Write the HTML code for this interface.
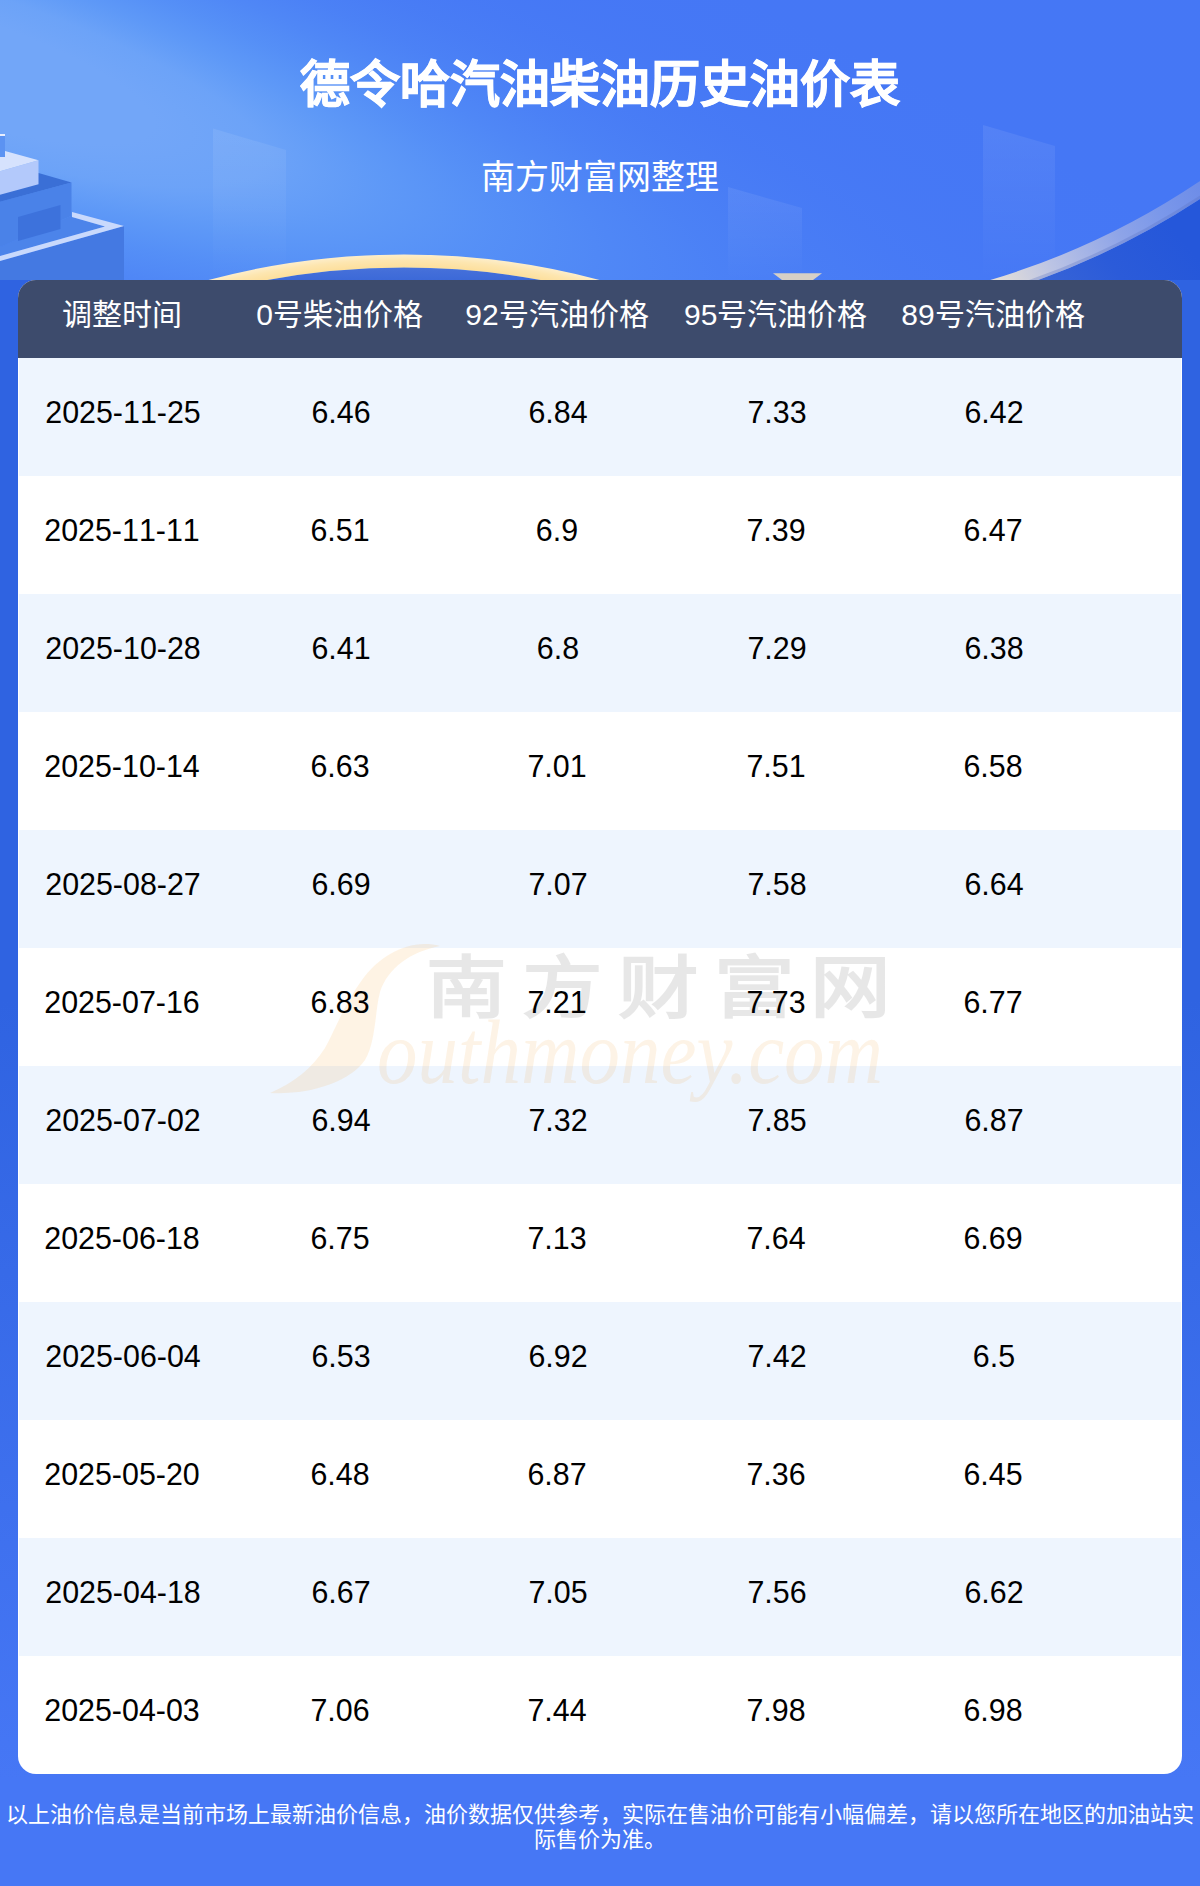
<!DOCTYPE html>
<html lang="zh-CN">
<head>
<meta charset="utf-8">
<title>德令哈汽油柴油历史油价表</title>
<style>
*{margin:0;padding:0;box-sizing:border-box}
html,body{width:1200px;height:1886px;overflow:hidden}
body{position:relative;font-family:"Liberation Sans",sans-serif;background:linear-gradient(180deg,#2f63e1 280px,#2f63e1 1000px,#4677f5 1780px,#4677f5 1886px);}
#hdr{position:absolute;left:0;top:0;width:1200px;height:280px}
#title{position:absolute;left:0;top:52px;width:1200px;text-align:center;color:#fff;font-size:50px;font-weight:bold;line-height:66px;letter-spacing:0;-webkit-text-stroke:0.8px #fff}
#sub{position:absolute;left:0;top:154px;width:1200px;text-align:center;color:#fff;font-size:34px;line-height:46px}
#tbl{position:absolute;left:18px;top:280px;width:1164px;height:1494px;border-radius:18px;overflow:hidden;background:#fff}
#th{position:absolute;left:0;top:0;width:1164px;height:78px;background:#3d4b6c}
.row{position:absolute;left:0;width:1164px;height:118px}
.row.a{background:#eef5fe;left:1px;width:1162px}
.c{position:absolute;top:0;width:218px;text-align:center;white-space:nowrap}
#th .c{color:#fff;font-size:30px;line-height:70px}
.row .c{color:#000;font-size:31px;line-height:109px;transform:scaleX(0.98);font-kerning:none}
.c0{left:-5px}.c1{left:212.5px}.c2{left:430px}.c3{left:648.8px}.c4{left:866px}
#wm{position:absolute;left:0;top:0;width:1164px;height:1494px;pointer-events:none;z-index:1}
.c{z-index:2}
#foot{position:absolute;left:0;top:1801.5px;width:1200px;padding:0 5px;text-align:center;color:#fff;font-size:22px;line-height:25.5px}
</style>
</head>
<body>
<svg id="hdr" width="1200" height="280" viewBox="0 0 1200 280">
<defs>
<radialGradient id="glow" gradientUnits="userSpaceOnUse" cx="0" cy="0" r="2.5" gradientTransform="translate(-74.6 57.1) rotate(17.2) scale(619 138)">
<stop offset="0.000" stop-color="#72a6f8" stop-opacity="1.000"/>
<stop offset="0.077" stop-color="#72a6f8" stop-opacity="1.000"/>
<stop offset="0.154" stop-color="#72a6f8" stop-opacity="1.000"/>
<stop offset="0.231" stop-color="#6fa6f8" stop-opacity="0.932"/>
<stop offset="0.308" stop-color="#68a6f8" stop-opacity="0.719"/>
<stop offset="0.385" stop-color="#64a6f8" stop-opacity="0.516"/>
<stop offset="0.462" stop-color="#63a6f8" stop-opacity="0.343"/>
<stop offset="0.538" stop-color="#62a6f8" stop-opacity="0.212"/>
<stop offset="0.615" stop-color="#62a6f8" stop-opacity="0.122"/>
<stop offset="0.692" stop-color="#62a6f8" stop-opacity="0.065"/>
<stop offset="0.769" stop-color="#62a6f8" stop-opacity="0.032"/>
<stop offset="0.846" stop-color="#62a6f8" stop-opacity="0.015"/>
<stop offset="0.923" stop-color="#62a6f8" stop-opacity="0.006"/>
<stop offset="1.000" stop-color="#62a6f8" stop-opacity="0.003"/>
</radialGradient>
<radialGradient id="goldg" gradientUnits="userSpaceOnUse" cx="404" cy="1014.5" r="766">
<stop offset="0.9755" stop-color="#fddf9c"/>
<stop offset="0.985" stop-color="#fde6b0"/>
<stop offset="1" stop-color="#fdf6e6"/>
</radialGradient>
<linearGradient id="inner" gradientUnits="userSpaceOnUse" x1="0" y1="266" x2="0" y2="280">
<stop offset="0" stop-color="#4872da"/>
<stop offset="1" stop-color="#3c69d8"/>
</linearGradient>
<linearGradient id="rband" gradientUnits="userSpaceOnUse" x1="1000" y1="280" x2="1200" y2="180">
<stop offset="0" stop-color="#e2ddd8"/>
<stop offset="0.23" stop-color="#bcc4e4"/>
<stop offset="0.57" stop-color="#8ea4e8"/>
<stop offset="0.77" stop-color="#7b98ea"/>
<stop offset="1" stop-color="#6d8ce8"/>
</linearGradient>
<linearGradient id="bld" x1="0" y1="0" x2="0" y2="1">
<stop offset="0" stop-color="#ffffff" stop-opacity="0.08"/>
<stop offset="1" stop-color="#ffffff" stop-opacity="0"/>
</linearGradient>
</defs>
<rect width="1200" height="280" fill="#4577f5"/>
<rect width="1200" height="280" fill="url(#glow)"/>
<!-- translucent buildings -->
<polygon points="213,128.5 286,150 286,280 213,280" fill="url(#bld)"/>
<polygon points="728,187 802,208 802,280 728,280" fill="url(#bld)"/>
<polygon points="983,125 1055,146 1055,280 983,280" fill="url(#bld)"/>
<!-- golden arc: inner region -->
<circle cx="404" cy="1014.5" r="747" fill="url(#inner)"/>
<circle cx="404" cy="1014.5" r="753.5" fill="none" stroke="url(#goldg)" stroke-width="13"/>
<!-- right arc -->
<linearGradient id="dark" gradientUnits="userSpaceOnUse" x1="1040" y1="290" x2="1150" y2="200">
<stop offset="0" stop-color="#3965d6"/>
<stop offset="0.5" stop-color="#2b5bd9"/>
<stop offset="1" stop-color="#2557da"/>
</linearGradient>
<path d="M 992.4 295 A 789 789 0 0 0 1254.5 160 L 1254.5 295 Z" fill="url(#dark)"/>
<path d="M 964.3 295 A 781.5 781.5 0 0 0 1242.3 160" fill="none" stroke="url(#rband)" stroke-width="15"/>
<path d="M 987 295 A 787.5 787.5 0 0 0 1252.1 160" fill="none" stroke="#5a70c0" stroke-opacity="0.3" stroke-width="3"/>
<!-- tan trapezoid -->
<polygon points="773,273.3 822,273.3 813,280 782,280" fill="#d6d0c6"/>
<!-- left building -->
<polygon points="0,261 124,226 124,280 0,280" fill="#4479e2"/>
<polygon points="0,247 71.5,215.7 72,217 105,226.5 0,256" fill="#4c84ea"/>
<polygon points="72,212 124,226 0,261 0,256 105,226.5 72,217" fill="#c9d9fc"/>
<polygon points="0,201.7 71.5,182.4 71.5,215.7 0,247" fill="#4a82e8"/>
<polygon points="18,217 60.5,205 60.5,229 18,241" fill="#3d72dc"/>
<polygon points="0,190 38.5,173 71.5,182.4 0,201.7" fill="#3a6fd6"/>
<polygon points="0,171.3 38.5,160.3 38.5,184.2 0,194.7" fill="#b3c9fb"/>
<polygon points="5,151 38.5,160.3 0,171.3 0,152.5" fill="#d6e2fd"/>
<rect x="0" y="135" width="5" height="22" fill="#5c93f2"/>
<rect x="0" y="134" width="5" height="2" fill="#e8eefe"/>
</svg>
<div id="title">德令哈汽油柴油历史油价表</div>
<div id="sub">南方财富网整理</div>

<div id="tbl">
<div id="th">
<div class="c c0">调整时间</div><div class="c c1">0号柴油价格</div><div class="c c2">92号汽油价格</div><div class="c c3">95号汽油价格</div><div class="c c4">89号汽油价格</div>
</div>
<div class="row a" style="top:78px"><div class="c c0">2025-11-25</div><div class="c c1">6.46</div><div class="c c2">6.84</div><div class="c c3">7.33</div><div class="c c4">6.42</div></div>
<div class="row" style="top:196px"><div class="c c0">2025-11-11</div><div class="c c1">6.51</div><div class="c c2">6.9</div><div class="c c3">7.39</div><div class="c c4">6.47</div></div>
<div class="row a" style="top:314px"><div class="c c0">2025-10-28</div><div class="c c1">6.41</div><div class="c c2">6.8</div><div class="c c3">7.29</div><div class="c c4">6.38</div></div>
<div class="row" style="top:432px"><div class="c c0">2025-10-14</div><div class="c c1">6.63</div><div class="c c2">7.01</div><div class="c c3">7.51</div><div class="c c4">6.58</div></div>
<div class="row a" style="top:550px"><div class="c c0">2025-08-27</div><div class="c c1">6.69</div><div class="c c2">7.07</div><div class="c c3">7.58</div><div class="c c4">6.64</div></div>
<div class="row" style="top:668px"><div class="c c0">2025-07-16</div><div class="c c1">6.83</div><div class="c c2">7.21</div><div class="c c3">7.73</div><div class="c c4">6.77</div></div>
<div class="row a" style="top:786px"><div class="c c0">2025-07-02</div><div class="c c1">6.94</div><div class="c c2">7.32</div><div class="c c3">7.85</div><div class="c c4">6.87</div></div>
<div class="row" style="top:904px"><div class="c c0">2025-06-18</div><div class="c c1">6.75</div><div class="c c2">7.13</div><div class="c c3">7.64</div><div class="c c4">6.69</div></div>
<div class="row a" style="top:1022px"><div class="c c0">2025-06-04</div><div class="c c1">6.53</div><div class="c c2">6.92</div><div class="c c3">7.42</div><div class="c c4">6.5</div></div>
<div class="row" style="top:1140px"><div class="c c0">2025-05-20</div><div class="c c1">6.48</div><div class="c c2">6.87</div><div class="c c3">7.36</div><div class="c c4">6.45</div></div>
<div class="row a" style="top:1258px"><div class="c c0">2025-04-18</div><div class="c c1">6.67</div><div class="c c2">7.05</div><div class="c c3">7.56</div><div class="c c4">6.62</div></div>
<div class="row" style="top:1376px"><div class="c c0">2025-04-03</div><div class="c c1">7.06</div><div class="c c2">7.44</div><div class="c c3">7.98</div><div class="c c4">6.98</div></div>
<svg id="wm" width="1164" height="1494" viewBox="18 280 1164 1494">
<path d="M 440 946 C 410 938, 380 955, 362 980 C 345 1003, 335 1030, 325 1048 C 312 1068, 295 1082, 270 1093 C 310 1095, 350 1082, 365 1060 C 376 1042, 375 1010, 380 992 C 388 968, 410 952, 440 946 Z" fill="#f8a020" fill-opacity="0.12"/>
<text x="0" y="0" font-family="Liberation Serif, serif" font-weight="bold" font-size="72" fill="#000" fill-opacity="0.095" letter-spacing="13.5" transform="translate(426 1012) scale(1.12 0.95)">南方财富网</text>
<text x="0" y="0" font-family="Liberation Serif, serif" font-style="italic" font-size="90" fill="#f0a030" fill-opacity="0.12" transform="translate(377 1083) scale(0.9 1)">outhmoney.com</text>
</svg>
</div>

<div id="foot">以上油价信息是当前市场上最新油价信息，油价数据仅供参考，实际在售油价可能有小幅偏差，请以您所在地区的加油站实际售价为准。</div>
</body>
</html>
